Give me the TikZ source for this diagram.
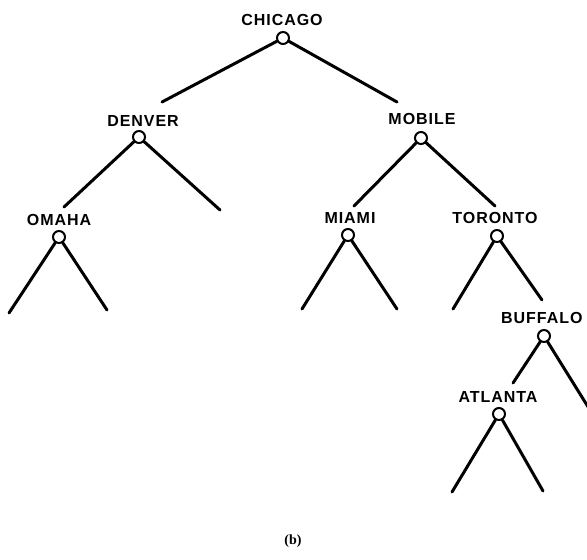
\documentclass[tikz,border=0pt]{standalone}
\usepackage{fontspec}
\setmainfont{Liberation Sans}[LetterSpace=6]
\newfontfamily\capfont{Liberation Serif}
\begin{document}
\begin{tikzpicture}[x=1pt,y=-1pt,
  vtx/.style={circle,draw,line width=2pt,minimum size=12pt,inner sep=0pt,fill=white},
  lbl/.style={font=\bfseries\fontsize{16}{16}\selectfont,inner sep=0pt},
  edge/.style={line width=3pt,line cap=round}]
\useasboundingbox (0,0) rectangle (587,560);
% vertices
\node[vtx] (chi) at (283,38) {};
\node[vtx] (den) at (139,137) {};
\node[vtx] (mob) at (421,138) {};
\node[vtx] (oma) at (59,237) {};
\node[vtx] (mia) at (348,235) {};
\node[vtx] (tor) at (497,236) {};
\node[vtx] (buf) at (544,336) {};
\node[vtx] (atl) at (499,414) {};
% labels
\node[lbl] (lchi) at (282,20) {CHICAGO};
\node[lbl] (lden) at (143,121) {DENVER};
\node[lbl] (lmob) at (422,119) {MOBILE};
\node[lbl] (loma) at (59,220) {OMAHA};
\node[lbl] (lmia) at (350,218) {MIAMI};
\node[lbl] (ltor) at (495,218) {TORONTO};
\node[lbl,anchor=west] (lbuf) at (501,318) {BUFFALO};
\node[lbl] (latl) at (498,397) {ATLANTA};
% free ends
\coordinate (e1) at (162,102);
\coordinate (e2) at (397,102);
\coordinate (e3) at (64,207);
\coordinate (e4) at (220,210);
\coordinate (e5) at (354,206);
\coordinate (e6) at (495,206);
\coordinate (e7) at (9,313);
\coordinate (e8) at (107,310);
\coordinate (e9) at (302,309);
\coordinate (e10) at (397,309);
\coordinate (e11) at (453,309);
\coordinate (e12) at (542,300);
\coordinate (e13) at (513,383);
\coordinate (e14) at (590,410);
\coordinate (e15) at (452,492);
\coordinate (e16) at (543,491);
% edges
\draw[edge] (chi) -- (e1);
\draw[edge] (chi) -- (e2);
\draw[edge] (den) -- (e3);
\draw[edge] (den) -- (e4);
\draw[edge] (mob) -- (e5);
\draw[edge] (mob) -- (e6);
\draw[edge] (oma) -- (e7);
\draw[edge] (oma) -- (e8);
\draw[edge] (mia) -- (e9);
\draw[edge] (mia) -- (e10);
\draw[edge] (tor) -- (e11);
\draw[edge] (tor) -- (e12);
\draw[edge] (buf) -- (e13);
\draw[edge] (buf) -- (e14);
\draw[edge] (atl) -- (e15);
\draw[edge] (atl) -- (e16);
% caption
\node[font=\capfont\bfseries\fontsize{14}{14}\selectfont,inner sep=0pt] (cap) at (293,541) {(b)};
\end{tikzpicture}
\end{document}
